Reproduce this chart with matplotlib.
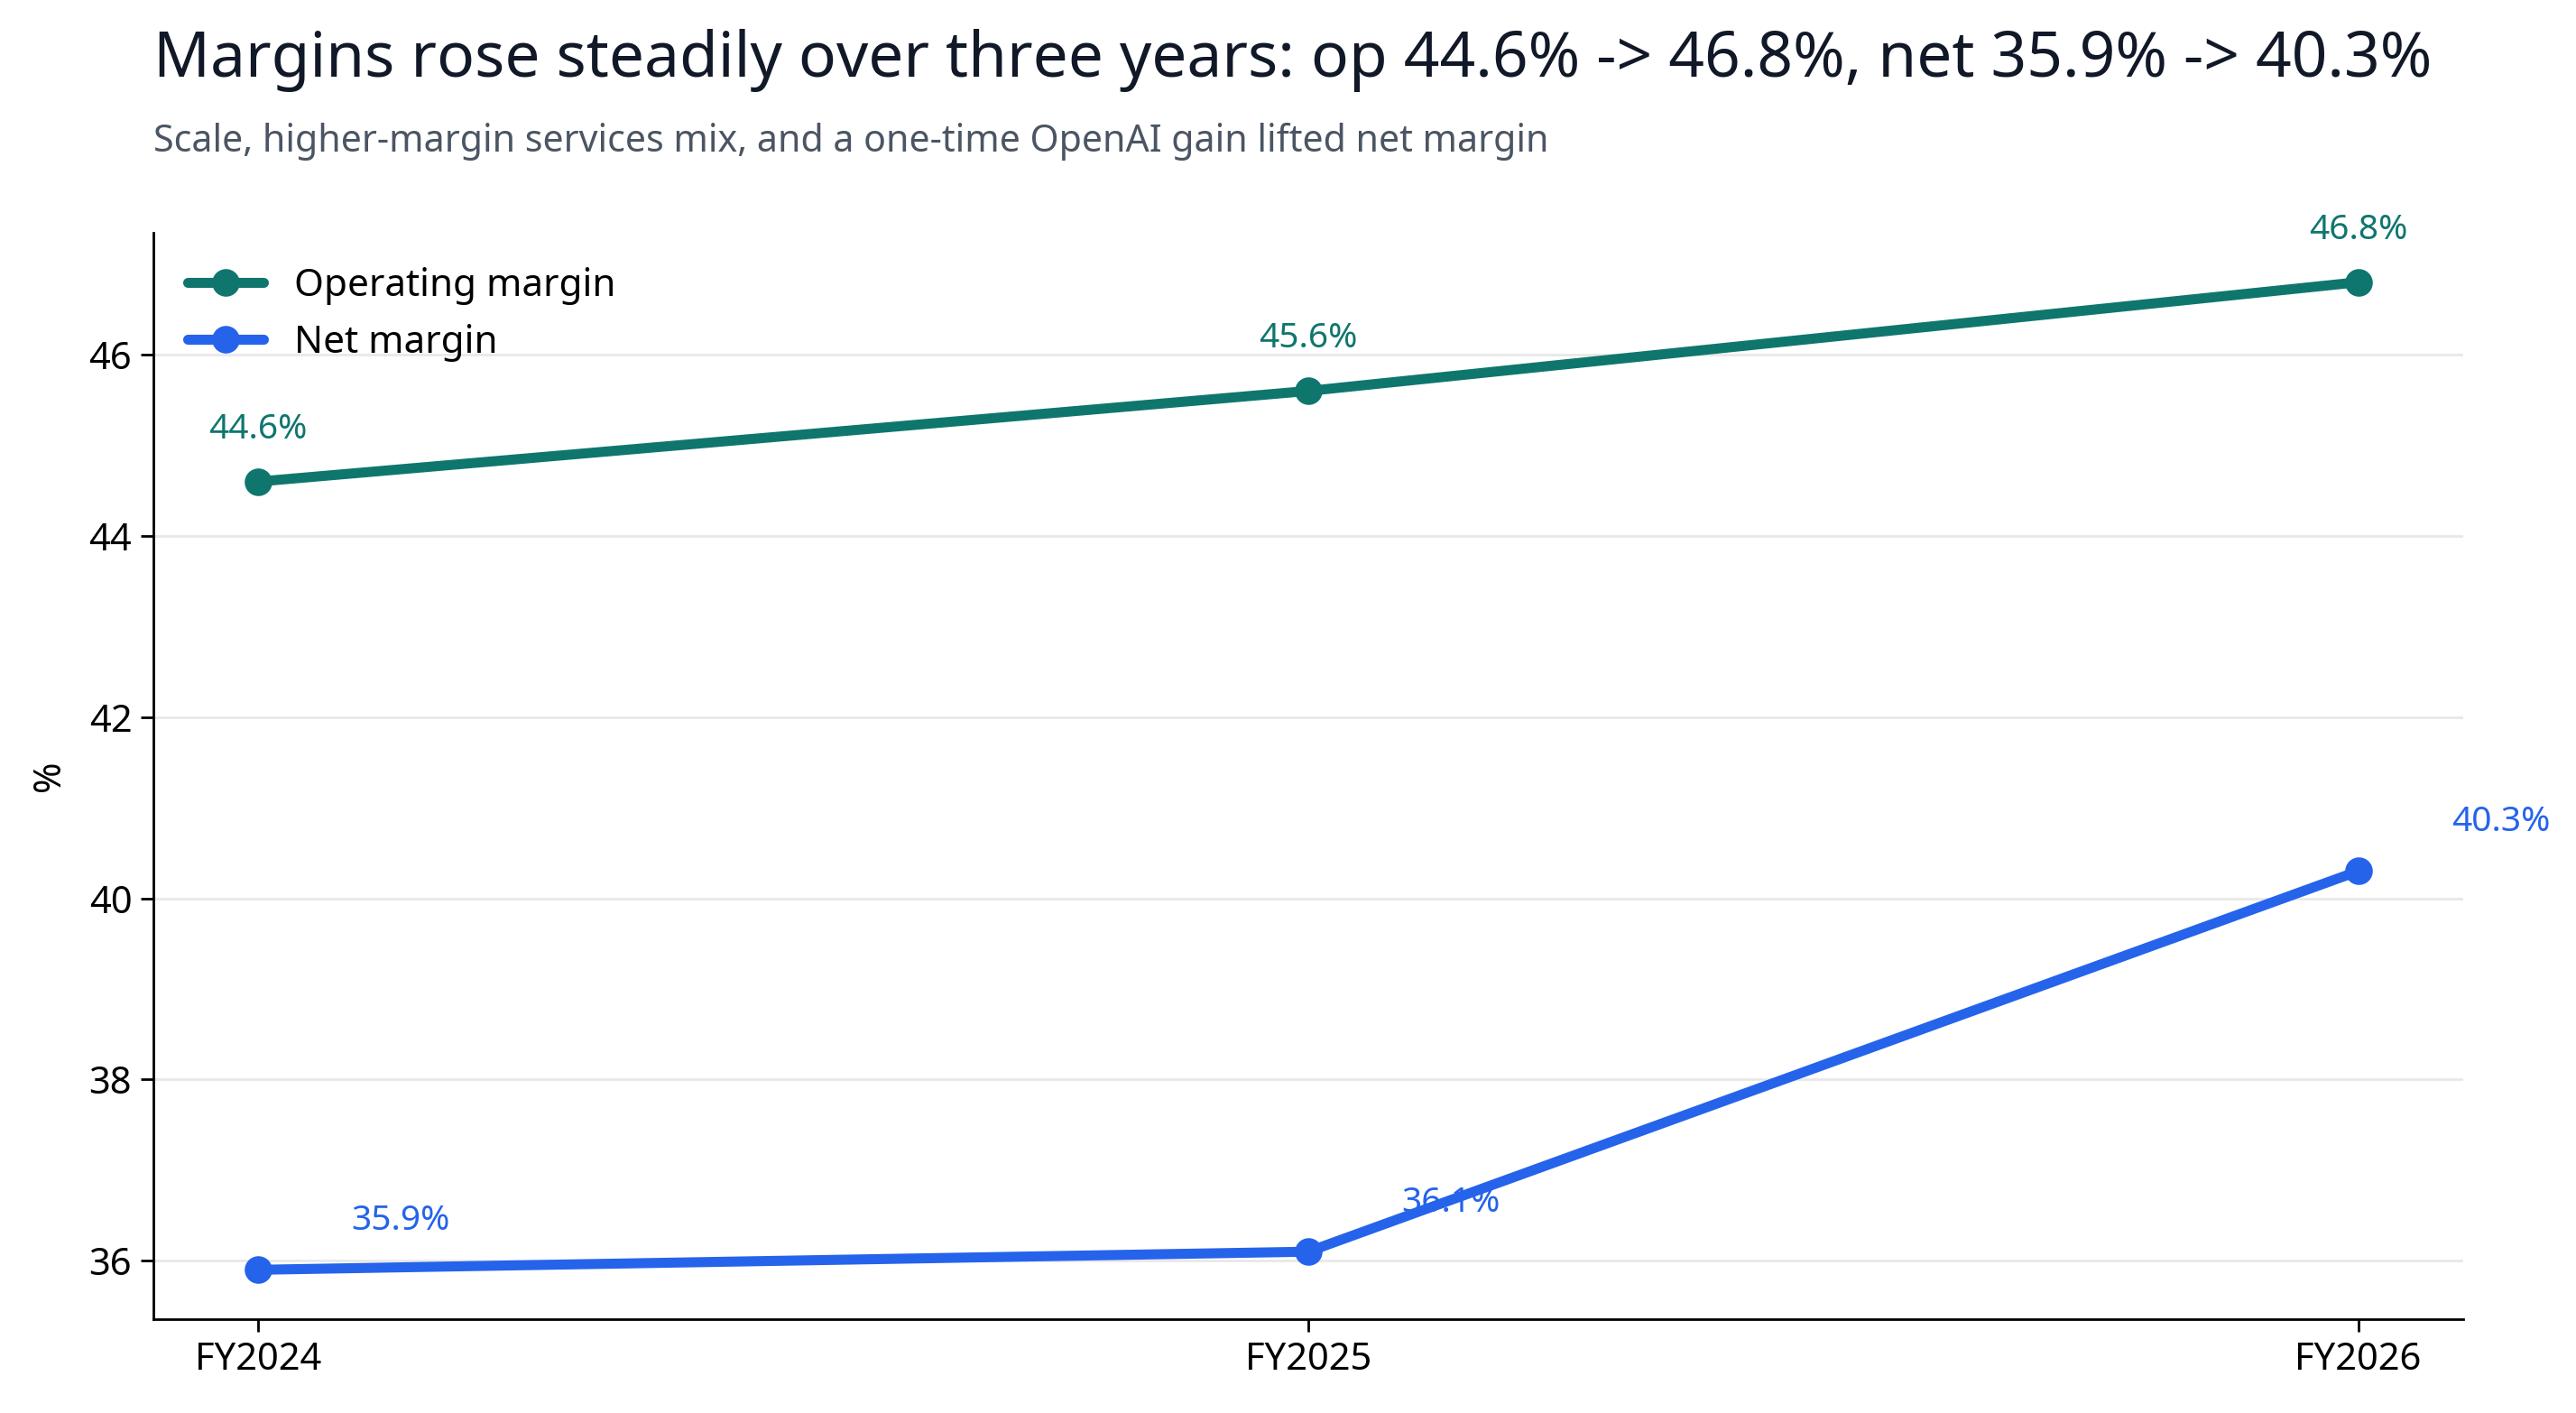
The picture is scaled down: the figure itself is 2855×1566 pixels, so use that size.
import matplotlib
matplotlib.use("Agg")
import matplotlib.pyplot as plt

plt.rcParams['font.family'] = ['Noto Sans', 'DejaVu Sans']

years = ["FY2024", "FY2025", "FY2026"]
operating_margin = [44.6, 45.6, 46.8]
net_margin = [35.9, 36.1, 40.3]
series_names = ["Operating margin", "Net margin"]
colors = ["#0f766e", "#2563eb"]

title = "Margins rose steadily over three years: op 44.6% -> 46.8%, net 35.9% -> 40.3%"
subtitle = "Scale, higher-margin services mix, and a one-time OpenAI gain lifted net margin"

DPI = 200
fig = plt.figure(figsize=(2855 / DPI, 1566 / DPI), dpi=DPI)
ax = fig.add_axes([0.0595, 0.0664, 0.8967, 0.7688])

x = list(range(len(years)))
ax.plot(x, operating_margin, color=colors[0], lw=4.0, marker="o", ms=10,
        label=series_names[0], zorder=3, solid_capstyle="round")
ax.plot(x, net_margin, color=colors[1], lw=4.0, marker="o", ms=10,
        label=series_names[1], zorder=3, solid_capstyle="round")

px = 72 / DPI
for xi, v in zip(x, operating_margin):
    ax.annotate(f"{v:.1f}%", (xi, v), xytext=(0, 48 * px), textcoords="offset points",
                ha="center", va="baseline", color=colors[0], fontsize=14)
for xi, v in zip(x, net_margin):
    ax.annotate(f"{v:.1f}%", (xi, v), xytext=(158 * px, 44 * px), textcoords="offset points",
                ha="center", va="baseline", color=colors[1], fontsize=14)

ax.set_xticks(x)
ax.set_xticklabels(years)
ax.set_yticks([36, 38, 40, 42, 44, 46])
ax.margins(x=0.05, y=0.05)
ax.tick_params(axis="both", labelsize=15, length=5, width=1)
ax.set_ylabel("%", fontsize=15, labelpad=8)

ax.grid(axis="y", color="#e8e8e8", lw=1.0, zorder=0)
ax.grid(axis="x", visible=False)
ax.set_axisbelow(True)
for s in ["top", "right"]:
    ax.spines[s].set_visible(False)
for s in ["left", "bottom"]:
    ax.spines[s].set_linewidth(1.0)

ax.legend(loc="upper left", frameon=False, fontsize=15.2)

fig.text(0.0595, 1 - 85 / 1566, title, fontsize=25, color="#111827", ha="left", va="baseline")
fig.text(0.0595, 1 - 168 / 1566, subtitle, fontsize=14.8, color="#4b5563", ha="left", va="baseline")

fig.savefig("out.png", dpi=DPI)
